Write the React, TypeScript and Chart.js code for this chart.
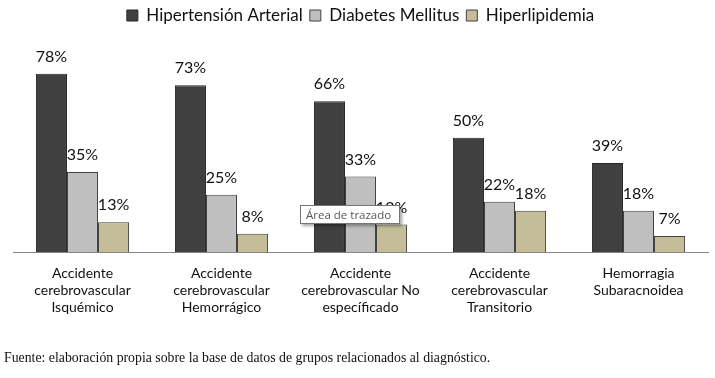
import React, { useEffect, useRef } from "react";
import { Chart, registerables } from "chart.js";

Chart.register(...registerables);

const categories: string[][] = [
  ["Accidente", "cerebrovascular", "Isquémico"],
  ["Accidente", "cerebrovascular", "Hemorrágico"],
  ["Accidente", "cerebrovascular No", "específicado"],
  ["Accidente", "cerebrovascular", "Transitorio"],
  ["Hemorragia", "Subaracnoidea"],
];
const hipertension = [78, 73, 66, 50, 39];
const diabetes = [35, 25, 33, 22, 18];
const hiperlipidemia = [13, 8, 12, 18, 7];
const seriesNames = ["Hipertensión Arterial", "Diabetes Mellitus", "Hiperlipidemia"];
const footerText = "Fuente: elaboración propia sobre la base de datos de grupos relacionados al diagnóstico.";
const tooltipText = "Área de trazado";

const labelPlugin = {
  id: "barValueLabels",
  afterDatasetsDraw(chart: any) {
    const ctx = chart.ctx;
    ctx.save();
    ctx.font = "16px Lato";
    ctx.fillStyle = "#111";
    ctx.textAlign = "center";
    ctx.textBaseline = "alphabetic";
    chart.data.datasets.forEach((ds: any, di: number) => {
      const meta = chart.getDatasetMeta(di);
      meta.data.forEach((bar: any, i: number) => {
        ctx.fillText(ds.data[i] + "%", bar.x, bar.y - 12);
      });
    });
    ctx.restore();
  },
};

export default function App() {
  const ref = useRef<HTMLCanvasElement>(null);
  useEffect(() => {
    if (!ref.current) return;
    const chart = new Chart(ref.current, {
      type: "bar",
      data: {
        labels: categories,
        datasets: [
          { label: seriesNames[0], data: hipertension, backgroundColor: "#404040", borderColor: "#262626", borderWidth: 1 },
          { label: seriesNames[1], data: diabetes, backgroundColor: "#BFBFBF", borderColor: "#404040", borderWidth: 1 },
          { label: seriesNames[2], data: hiperlipidemia, backgroundColor: "#C4BD97", borderColor: "#404040", borderWidth: 1 },
        ],
      },
      options: {
        animation: false,
        responsive: false,
        maintainAspectRatio: false,
        layout: { padding: { left: 13, right: 7, top: 0, bottom: 0 } },
        datasets: { bar: { categoryPercentage: 0.67, barPercentage: 1 } },
        plugins: {
          legend: {
            display: true,
            position: "top",
            labels: {
              font: { family: "Lato", size: 17 },
              color: "#111",
              boxWidth: 11,
              boxHeight: 11,
              padding: 7,
            },
          },
          tooltip: { enabled: false },
        },
        scales: {
          x: {
            grid: { display: false, drawTicks: false },
            border: { display: true, color: "#868686", width: 1 },
            ticks: {
              font: { family: "Lato", size: 14, lineHeight: 1.2 },
              color: "#111",
              padding: 13,
              maxRotation: 0,
              autoSkip: false,
            },
            afterFit: (scale: any) => {
              scale.height = 126;
            },
          },
          y: {
            display: false,
            min: 0,
            max: 95.4,
          },
        },
      },
      plugins: [labelPlugin],
    });
    return () => chart.destroy();
  }, []);

  return (
    <div style={{ position: "fixed", left: 0, top: 0, width: 715, height: 378, background: "#fff", overflow: "hidden" }}>
      <canvas ref={ref} width={715} height={378} style={{ position: "absolute", left: 0, top: 0, width: 715, height: 378 }} />
      <div
        style={{
          position: "absolute",
          left: 4,
          top: 350,
          fontFamily: "'Liberation Serif', serif",
          fontSize: 13.8,
          color: "#111",
          whiteSpace: "nowrap",
        }}
      >
        {footerText}
      </div>
      <div
        style={{
          position: "absolute",
          left: 300,
          top: 205,
          width: 93,
          height: 17,
          background: "#fff",
          border: "1px solid #767676",
          boxShadow: "2px 2px 3px rgba(0,0,0,0.35)",
          fontFamily: "'Open Sans', sans-serif",
          fontSize: 11.5,
          lineHeight: "17px",
          color: "#575757",
          paddingLeft: 5,
          boxSizing: "content-box",
          whiteSpace: "nowrap",
        }}
      >
        {tooltipText}
      </div>
    </div>
  );
}
